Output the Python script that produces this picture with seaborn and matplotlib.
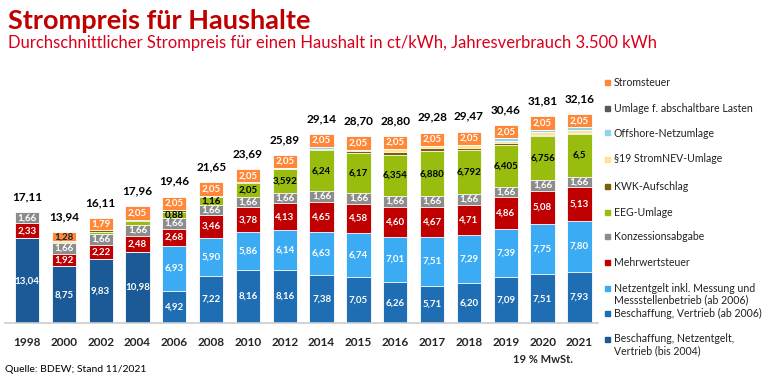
import numpy as np
import matplotlib
matplotlib.use("Agg")
import matplotlib.pyplot as plt
import seaborn as sns
from matplotlib.patches import Rectangle

years = ["1998", "2000", "2002", "2004", "2006", "2008", "2010", "2012",
         "2014", "2015", "2016", "2017", "2018", "2019", "2020", "2021"]

bis2004 = [13.04, 8.75, 9.83, 10.98, 0, 0, 0, 0, 0, 0, 0, 0, 0, 0, 0, 0]
beschaffung = [0, 0, 0, 0, 4.92, 7.22, 8.16, 8.16, 7.38, 7.05, 6.26, 5.71, 6.20, 7.09, 7.51, 7.93]
netzentgelt = [0, 0, 0, 0, 6.93, 5.90, 5.86, 6.14, 6.63, 6.74, 7.01, 7.51, 7.29, 7.39, 7.75, 7.80]
mwst = [2.33, 1.92, 2.22, 2.48, 2.68, 3.46, 3.78, 4.13, 4.65, 4.58, 4.60, 4.67, 4.71, 4.86, 5.08, 5.13]
konzession = [1.66, 1.66, 1.66, 1.66, 1.66, 1.66, 1.66, 1.66, 1.66, 1.66, 1.66, 1.66, 1.66, 1.66, 1.66, 1.66]
eeg = [0.08, 0.20, 0.35, 0.51, 0.88, 1.16, 2.05, 3.592, 6.24, 6.17, 6.354, 6.880, 6.792, 6.405, 6.756, 6.5]
eeg_labels = ["", "", "", "", "0,88", "1,16", "2,05", "3,592", "6,24", "6,17",
              "6,354", "6,880", "6,792", "6,405", "6,756", "6,5"]
kwk = [0, 0.13, 0.26, 0.28, 0.34, 0.20, 0.13, 0.002, 0.178, 0.254, 0.445, 0.438, 0.345, 0.280, 0.226, 0.254]
stromnev = [0, 0, 0, 0, 0, 0, 0, 0.151, 0.092, 0.237, 0.378, 0.388, 0.37, 0.305, 0.358, 0.432]
offshore = [0, 0, 0, 0, 0, 0, 0, 0, 0.25, 0, 0.04, 0, 0.037, 0.416, 0.416, 0.395]
abschaltbar = [0, 0, 0, 0, 0, 0, 0, 0, 0.009, 0.006, 0.002, 0.006, 0.011, 0.005, 0.007, 0.009]
stromsteuer = [0, 1.28, 1.79, 2.05, 2.05, 2.05, 2.05, 2.05, 2.05, 2.05, 2.05, 2.05, 2.05, 2.05, 2.05, 2.05]
totals = [17.11, 13.94, 16.11, 17.96, 19.46, 21.65, 23.69, 25.89,
          29.14, 28.70, 28.80, 29.28, 29.47, 30.46, 31.81, 32.16]

# bottom -> top
layers = [
    ("Beschaffung, Netzentgelt,\nVertrieb (bis 2004)", bis2004, "#1b5a96", "white"),
    ("Beschaffung, Vertrieb (ab 2006)", beschaffung, "#1f6db3", "white"),
    ("Netzentgelt inkl. Messung und\nMessstellenbetrieb (ab 2006)", netzentgelt, "#3babf4", "white"),
    ("Mehrwertsteuer", mwst, "#c00000", "white"),
    ("Konzessionsabgabe", konzession, "#8c8c8c", "white"),
    ("EEG-Umlage", eeg, "#99bd0e", "black"),
    ("KWK-Aufschlag", kwk, "#7f6000", None),
    ("§19 StromNEV-Umlage", stromnev, "#ffe38f", None),
    ("Offshore-Netzumlage", offshore, "#8fd3ef", None),
    ("Umlage f. abschaltbare Lasten", abschaltbar, "#595959", None),
    ("Stromsteuer", stromsteuer, "#ff8737", "white"),
]

sns.set_style("white")
plt.rcParams["font.family"] = ["Lato", "DejaVu Sans"]

fig = plt.figure(figsize=(7.68, 3.81), dpi=100)
ax = fig.add_axes([0.0064, 0.152, 0.772, 34 * 6.5 / 381])

cum = np.cumsum(np.array([l[1] for l in layers]), axis=0)

# stacked bars: draw cumulative sums from the top layer down
for k in range(len(layers) - 1, -1, -1):
    sns.barplot(x=years, y=cum[k], color=layers[k][2], saturation=1,
                width=0.66, edgecolor="white", linewidth=0.6, ax=ax)

for k, (name, vals, col, tcol) in enumerate(layers):
    if tcol is None:
        continue
    for i, v in enumerate(vals):
        if v <= 0:
            continue
        if name == "EEG-Umlage":
            lab = eeg_labels[i]
        else:
            lab = f"{v:.2f}".replace(".", ",")
        if not lab:
            continue
        c = tcol
        if name == "Stromsteuer" and v < 1.5:
            c = "#222222"
        ax.text(i, cum[k][i] - v / 2, lab, ha="center", va="center",
                color=c, fontsize=7, fontweight="bold")

for i, t in enumerate(totals):
    ax.annotate(f"{t:.2f}".replace(".", ","), (i, cum[-1][i]), xytext=(0, 11),
                textcoords="offset points", ha="center", va="center",
                fontsize=8.5, fontweight="bold", color="black")

ax.set_xlim(-0.6, 15.5)
ax.set_ylim(0, 34)
ax.set_xlabel("")
ax.set_ylabel("")
ax.set_yticks([])
sns.despine(ax=ax, left=True)
ax.spines["bottom"].set_color("#c9ccd3")
ax.spines["bottom"].set_linewidth(1.2)
ax.tick_params(axis="x", length=0, pad=10)
for lbl in ax.get_xticklabels():
    lbl.set_fontweight("bold")
    lbl.set_fontsize(8.5)

ax.annotate("19 % MwSt.", (14, 0), xytext=(0, -26), textcoords="offset points",
            ha="center", va="center", fontsize=8, fontweight="bold")

# titles
fig.text(0.0104, 1 - 21 / 381, "Strompreis für Haushalte", fontsize=19.5,
         fontweight="bold", color="#c00000", va="center", ha="left")
fig.text(0.0104, 1 - 43 / 381,
         "Durchschnittlicher Strompreis für einen Haushalt in ct/kWh, Jahresverbrauch 3.500 kWh",
         fontsize=12, color="#d9001b", va="center", ha="left")
fig.text(5 / 768, 1 - 370 / 381, "Quelle: BDEW; Stand 11/2021", fontsize=7.5,
         color="black", va="center", ha="left")

# legend, drawn top -> bottom
legend_rows = [82, 108, 133, 159, 186, 212, 237, 262, 288, 313, 339]
for (name, vals, col, tcol), y in zip(layers[::-1], legend_rows):
    fig.patches.append(Rectangle((605 / 768, 1 - (y + 2.5) / 381), 5 / 768, 5 / 381,
                                 transform=fig.transFigure, color=col))
    fig.text(614 / 768, 1 - (y - 5.5) / 381, name, fontsize=7.6, va="top", ha="left",
             linespacing=1.1, color="#222222")

fig.savefig("out.png", dpi=100)
